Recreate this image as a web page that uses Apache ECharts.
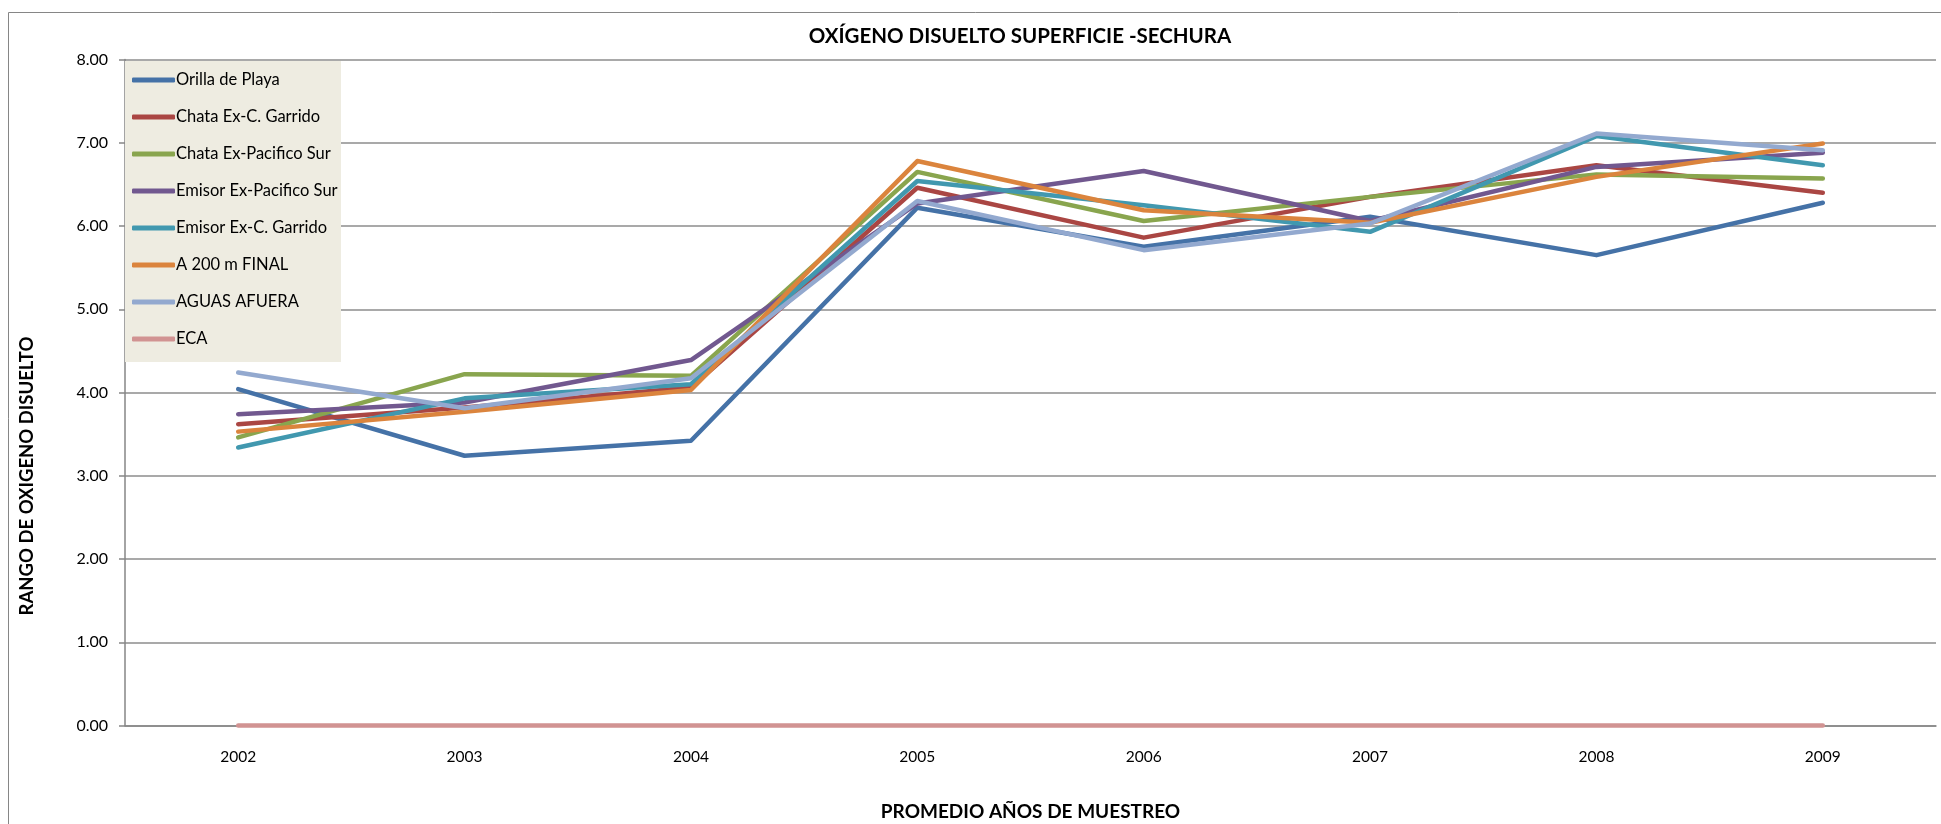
<!DOCTYPE html>
<html>
<head>
<meta charset="utf-8">
<script src="https://cdn.jsdelivr.net/npm/echarts@6/dist/echarts.min.js"></script>
<style>
html,body{margin:0;padding:0;background:#fff;}
#chart{width:1941px;height:824px;}
</style>
</head>
<body>
<div id="chart"></div>
<script>
const categories = ['2002','2003','2004','2005','2006','2007','2008','2009'];
const seriesNames = ['Orilla de Playa','Chata Ex-C. Garrido','Chata Ex-Pacifico Sur','Emisor Ex-Pacifico Sur','Emisor Ex-C. Garrido','A 200 m FINAL','AGUAS AFUERA','ECA'];
const orillaPlaya     = [4.04, 3.24, 3.42, 6.22, 5.75, 6.11, 5.65, 6.28];
const chataGarrido    = [3.62, 3.82, 4.06, 6.46, 5.86, 6.35, 6.73, 6.40];
const chataPacifico   = [3.46, 4.22, 4.20, 6.65, 6.06, 6.35, 6.62, 6.57];
const emisorPacifico  = [3.74, 3.88, 4.39, 6.27, 6.66, 6.06, 6.71, 6.88];
const emisorGarrido   = [3.34, 3.93, 4.10, 6.54, 6.25, 5.93, 7.08, 6.73];
const a200Final       = [3.53, 3.77, 4.03, 6.78, 6.19, 6.04, 6.59, 6.99];
const aguasAfuera     = [4.24, 3.81, 4.17, 6.30, 5.71, 6.03, 7.11, 6.91];
const eca             = [0, 0, 0, 0, 0, 0, 0, 0];
const yTicks = [0, 1, 2, 3, 4, 5, 6, 7, 8];

const allData = [orillaPlaya, chataGarrido, chataPacifico, emisorPacifico, emisorGarrido, a200Final, aguasAfuera, eca];
const colors = ['#4572A7','#AA4643','#89A54E','#71588F','#4198AF','#DB843D','#93A9CF','#D19392'];
const FONT = 'Lato, "Open Sans", sans-serif';

const chart = echarts.init(document.getElementById('chart'), null, {renderer:'canvas'});
const option = {
  animation: false,
  backgroundColor: '#fff',
  color: colors,
  title: {
    text: 'OXÍGENO DISUELTO SUPERFICIE -SECHURA',
    left: 1015, top: 21, textAlign: 'center',
    textStyle: {fontFamily: FONT, fontWeight: 'bold', fontSize: 20.5, color: '#000'}
  },
  grid: {left: 125, right: 5, top: 59.5, bottom: 98.5, containLabel: false, outerBoundsMode: 'none'},
  legend: {
    orient: 'vertical',
    left: 127, top: 66,
    itemWidth: 43, itemHeight: 5,
    itemGap: 19,
    icon: 'roundRect',
    textStyle: {fontFamily: FONT, fontSize: 16.5, color: '#000', lineHeight: 18, padding: [0,0,0,-4]},
    data: seriesNames
  },
  xAxis: {
    type: 'category',
    data: categories,
    boundaryGap: true,
    name: 'PROMEDIO AÑOS DE MUESTREO',
    nameLocation: 'middle',
    nameGap: 77,
    nameTextStyle: {fontFamily: FONT, fontWeight: 'bold', fontSize: 19, color: '#000'},
    axisLine: {lineStyle: {color: '#868686', width: 1.5}},
    axisTick: {show: false},
    axisLabel: {fontFamily: FONT, fontSize: 15.5, color: '#000', margin: 23}
  },
  yAxis: {
    type: 'value',
    min: yTicks[0], max: yTicks[yTicks.length-1], interval: 1,
    axisLine: {show: true, lineStyle: {color: '#868686', width: 1.5}},
    axisTick: {show: true, length: 6, lineStyle: {color: '#868686', width: 1.5}},
    axisLabel: {fontFamily: FONT, fontSize: 16, color: '#000', margin: 17,
      formatter: v => v.toFixed(2)},
    splitLine: {show: true, lineStyle: {color: '#8c8c8c', width: 1.5}}
  },
  graphic: [
    {type: 'rect', silent: true, z: -1,
     shape: {x: 8.5, y: 12.5, width: 1945, height: 830},
     style: {fill: 'none', stroke: '#868686', lineWidth: 1}},
    {type: 'rect', silent: true, z: 3,
     shape: {x: 125, y: 61, width: 216, height: 301},
     style: {fill: '#EEECE1', stroke: 'none'}},
    {type: 'text', silent: true, z: 5,
     x: 27, y: 476, rotation: Math.PI/2,
     style: {text: 'RANGO DE OXIGENO DISUELTO', fontFamily: FONT, fontWeight: 'bold', fontSize: 18.5,
       fill: '#000', align: 'center', verticalAlign: 'middle'}}
  ],
  series: seriesNames.map((n, i) => ({
    name: n,
    type: 'line',
    data: allData[i],
    symbol: 'none',
    clip: false,
    lineStyle: {width: 4.5, color: colors[i], cap: 'round', join: 'round'},
    itemStyle: {color: colors[i]},
    z: 2
  }))
};
chart.setOption(option);
</script>
</body>
</html>
